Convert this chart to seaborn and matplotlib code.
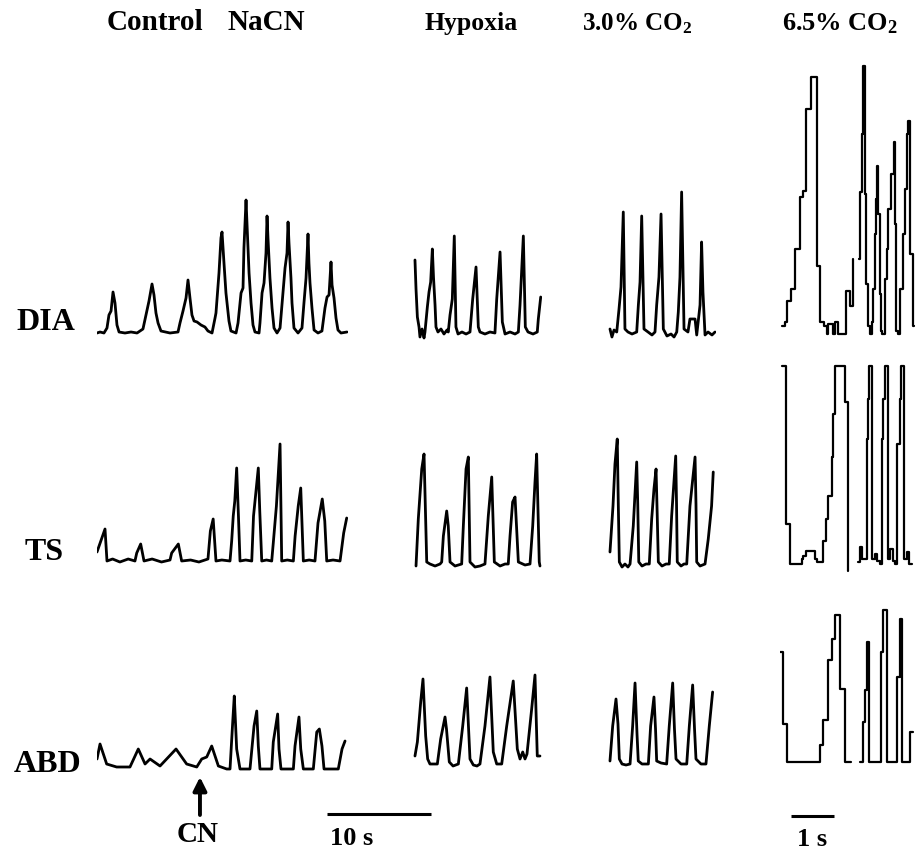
import numpy as np
import matplotlib
matplotlib.use("Agg")
import matplotlib.pyplot as plt
import seaborn as sns

sns.set_theme(style="white")
plt.rcParams["font.family"] = ["Liberation Serif", "DejaVu Serif"]
plt.rcParams["mathtext.fontset"] = "custom"
plt.rcParams["mathtext.rm"] = "Liberation Serif:bold"
plt.rcParams["mathtext.it"] = "Liberation Serif:bold"
plt.rcParams["mathtext.bf"] = "Liberation Serif:bold"

# ---------------------------------------------------------------
# Recording conditions and muscles
# ---------------------------------------------------------------
conditions = ["Control", "NaCN", "Hypoxia", "3.0% CO$_2$", "6.5% CO$_2$"]
muscles = ["DIA", "TS", "ABD"]
scale_bars_s = [10, 1]
cn_injection_s = 9.9

# ---------------------------------------------------------------
# Integrated EMG traces: time (s) and amplitude (a.u.)
# ---------------------------------------------------------------
# Control -> NaCN
nacn_dia_t = [0.00, 0.29, 0.67, 0.96, 1.15, 1.35, 1.54, 1.73, 1.92, 2.12,
              2.69, 3.27, 3.85, 4.42, 4.71, 5.00, 5.29, 5.48, 5.67, 5.87,
              6.15, 7.02, 7.79, 7.98, 8.27, 8.56, 8.75, 8.94, 9.13, 9.33,
              9.62, 10.00, 10.38, 10.67, 11.06, 11.35, 11.44, 11.73, 11.92, 12.02,
              12.21, 12.40, 12.69, 12.88, 13.37, 13.56, 13.85, 14.04, 14.13, 14.33,
              14.42, 14.62, 14.81, 15.00, 15.19, 15.58, 15.67, 15.87, 16.06, 16.25,
              16.35, 16.44, 16.63, 16.83, 17.02, 17.31, 17.60, 17.88, 18.08, 18.27,
              18.37, 18.46, 18.65, 18.75, 18.94, 19.33, 19.71, 19.90, 20.10, 20.29,
              20.38, 20.48, 20.67, 20.87, 21.25, 21.63, 21.92, 22.12, 22.31, 22.50,
              22.60, 22.79, 22.98, 23.17, 23.46, 24.04]
nacn_dia = [0, 1, 0, 5, 18, 22, 41, 30, 8, 1,
            0, 1, 0, 4, 18, 32, 49, 38, 20, 10,
            2, 0, 1, 10, 22, 35, 53, 35, 18, 12,
            11, 8, 6, 2, 0, 15, 20, 60, 95, 101,
            70, 40, 12, 2, 0, 10, 40, 45, 85, 133,
            110, 60, 30, 8, 1, 0, 10, 40, 50, 80,
            117, 95, 55, 25, 5, 0, 5, 40, 65, 80,
            111, 90, 55, 30, 5, 0, 5, 30, 55, 99,
            70, 50, 25, 3, 0, 2, 25, 36, 38, 71,
            48, 35, 15, 3, 0, 1]

nacn_ts_t = [0.00, 0.77, 0.96, 1.5, 2.2, 3.0, 3.65, 3.82, 4.20, 4.52,
             5.3, 6.2, 7.02, 7.18, 7.82, 8.14, 9.0, 9.8, 10.67, 10.9,
             11.17, 11.44, 12.0, 12.79, 12.95, 13.1, 13.25, 13.43, 13.6, 13.75,
             14.3, 14.88, 15.05, 15.51, 15.65, 15.84, 16.3, 16.80, 16.95, 17.25,
             17.6, 17.76, 18.3, 18.88, 19.05, 19.35, 19.59, 19.84, 20.4, 20.96,
             21.25, 21.66, 21.9, 22.09, 22.7, 23.37, 23.72, 24.01]
nacn_ts = [9, 32, 0, 2, -1, 2, 0, 8, 17, 0,
           2, -1, 1, 8, 17, 0, 1, -1, 2, 30,
           42, 0, 1, 0, 20, 45, 60, 93, 45, 0,
           1, 0, 45, 93, 50, 0, 1, 0, 18, 55,
           117, 0, 1, 0, 25, 55, 73, 0, 1, 0,
           38, 62, 40, 0, 1, 0, 28, 43]

nacn_abd_t = [0.00, 0.29, 0.93, 1.89, 3.17, 3.97, 4.62, 5.10, 6.06, 7.60,
              8.62, 9.59, 10.07, 10.55, 11.03, 11.67, 12.47, 12.79, 13.05, 13.20,
              13.43, 13.75, 14.71, 15.10, 15.36, 15.51, 15.67, 16.80, 16.95, 17.37,
              17.50, 17.69, 18.88, 19.04, 19.42, 19.59, 19.84, 20.80, 21.13, 21.38,
              21.63, 21.83, 23.20, 23.56, 23.85]
nacn_abd = [10, 25, 5, 2, 2, 20, 5, 10, 3, 20,
            5, 2, 10, 12, 23, 3, 0, 0, 47, 73,
            20, 0, 0, 43, 58, 23, 0, 0, 27, 55,
            20, 0, 0, 23, 52, 20, 0, 0, 37, 40,
            23, 0, 0, 20, 28]

# Hypoxia
hyp_dia_t = [0.19, 0.29, 0.42, 0.58, 0.67, 0.87, 1.06, 1.15, 1.38, 1.54,
             1.70, 1.86, 1.97, 2.12, 2.21, 2.40, 2.69, 2.98, 3.27, 3.39,
             3.56, 3.78, 3.97, 4.13, 4.33, 4.71, 5.10, 5.48, 5.74, 6.06,
             6.28, 6.44, 6.92, 7.40, 7.88, 8.05, 8.37, 8.59, 8.85, 9.33,
             9.81, 10.13, 10.29, 10.61, 10.80, 11.06, 11.54, 11.95, 12.05, 12.28]
hyp_dia = [72, 43, 15, 5, -5, 3, -6, 0, 25, 40,
           50, 83, 55, 27, 5, 0, 3, -2, 2, 0,
           17, 33, 96, 5, -2, 0, -2, 0, 33, 65,
           5, 0, -2, 0, -1, 33, 80, 10, -2, 0,
           -2, 0, 27, 96, 5, 0, -2, 0, 13, 35]

hyp_ts_t = [0.29, 0.51, 0.84, 1.06, 1.18, 1.32, 1.63, 2.12, 2.60, 2.76,
            2.92, 3.24, 3.39, 3.56, 4.04, 4.68, 4.84, 5.10, 5.32, 5.48,
            5.96, 6.44, 6.92, 7.24, 7.57, 7.82, 8.37, 8.85, 9.16, 9.33,
            9.58, 9.81, 10.13, 10.77, 11.25, 11.51, 11.73, 11.89, 12.14, 12.21]
hyp_ts = [-2, 45, 95, 110, 60, 2, 0, -2, 0, 2,
          28, 53, 38, 2, -2, 0, 38, 95, 107, 2,
          -3, -2, 0, 48, 87, 2, -2, 0, 0, 28,
          62, 67, 2, -1, 0, 38, 82, 110, 2, -2]

hyp_abd_t = [0.19, 0.42, 0.74, 0.96, 1.22, 1.41, 1.63, 2.02, 2.34, 2.66,
             3.08, 3.22, 3.49, 3.85, 4.36, 4.78, 5.16, 5.48, 5.80, 6.15,
             6.44, 6.92, 7.40, 7.72, 8.05, 8.53, 9.01, 9.64, 10.03, 10.29,
             10.55, 10.77, 10.96, 11.41, 11.73, 11.95, 12.21]
hyp_abd = [8, 22, 62, 85, 28, 5, 0, 0, 0, 25,
           47, 35, 2, -2, 0, 38, 76, 5, -1, -2,
           0, 38, 87, 12, 0, 0, 38, 83, 15, 5,
           12, 5, 10, 55, 89, 8, 8]

# 3.0% CO2
co2a_dia_t = [0.19, 0.38, 0.58, 0.84, 1.06, 1.25, 1.47, 1.63, 1.92, 2.31,
              2.76, 2.92, 3.08, 3.24, 3.46, 3.85, 4.23, 4.52, 4.68, 4.90,
              5.10, 5.32, 5.67, 6.06, 6.35, 6.61, 6.76, 6.92, 7.08, 7.31,
              7.69, 7.88, 8.37, 8.53, 8.85, 9.00, 9.13, 9.33, 9.62, 10.00,
              10.29]
co2a_dia = [3, -5, 2, 0, 23, 45, 120, 3, 0, -2,
            0, 27, 50, 116, 3, 0, -3, 0, 27, 55,
            118, 3, -4, -2, -5, 0, 20, 55, 140, 3,
            0, 13, 13, -3, 27, 90, 40, -3, 0, -3,
            0]

co2a_ts_t = [0.19, 0.48, 0.67, 0.89, 0.99, 1.09, 1.35, 1.63, 1.92, 2.12,
             2.43, 2.76, 2.86, 2.96, 3.27, 3.65, 3.97, 4.20, 4.42, 4.62,
             4.73, 4.84, 5.19, 5.58, 5.89, 6.12, 6.51, 6.59, 6.66, 7.02,
             7.31, 7.57, 7.88, 8.37, 8.46, 8.53, 8.85, 9.33, 9.64, 9.96,
             10.12]
co2a_ts = [12, 58, 100, 125, 60, 2, -3, 0, -3, 0,
           38, 102, 60, 2, -2, 0, 0, 45, 75, 95,
           50, 2, -2, 0, 0, 48, 108, 60, 2, -2,
           0, 0, 58, 107, 60, 2, -2, 0, 25, 58,
           92]

co2a_abd_t = [0.19, 0.45, 0.77, 0.96, 1.09, 1.35, 1.73, 2.12, 2.37, 2.60,
              2.79, 2.91, 3.27, 3.88, 4.10, 4.42, 4.57, 4.68, 5.10, 5.64,
              5.89, 6.22, 6.39, 6.54, 7.02, 7.57, 7.82, 8.14, 8.32, 8.46,
              8.94, 9.42, 9.74, 10.06]
co2a_abd = [3, 38, 65, 40, 5, 0, -1, 0, 38, 81,
            30, 3, 0, 0, 38, 67, 35, 3, 1, 0,
            38, 81, 35, 5, 0, 0, 38, 79, 35, 5,
            0, 0, 38, 72]

# 6.5% CO2 (expanded time base, sampled display; NaN = pen lift)
co2b_dia_t = [0.04, 0.12, 0.16, 0.25, 0.35, 0.47, 0.54, 0.60, 0.71, 0.85,
              0.93, 1.02, 1.10, 1.12, 1.24, 1.28, 1.36, 1.43, 1.53, 1.63,
              1.69, 1.72, 1.84, 1.87, 1.90, 1.94, 1.97, 2.00, 2.05, 2.09,
              2.14, 2.17, 2.21, 2.23, 2.26, 2.29, 2.32, 2.34, 2.38, 2.44,
              2.48, 2.52, 2.58, 2.64, 2.67, 2.70, 2.75, 2.79, 2.85, 2.91,
              2.95, 2.98, 3.02, 3.09, 3.12]
co2b_dia = [8, 12, 33, 45, 85, 137, 143, 225, 257, 68,
            12, 8, 0, 10, 0, 12, 0, 0, 43, 28,
            75, np.nan, 75, 142, 200, 268, 140, 50, 8, 0,
            12, 45, 100, 135, 168, 120, 40, 3, 0, 55,
            85, 125, 160, 192, 110, 3, 0, 45, 100, 145,
            200, 213, 80, 8, 8]

co2b_ts_t = [0.04, 0.14, 0.23, 0.50, 0.54, 0.60, 0.81, 0.85, 0.93, 1.01,
             1.07, 1.12, 1.20, 1.24, 1.28, 1.51, 1.59, 1.63, 1.82, 1.86,
             1.90, 1.98, 2.02, 2.05, 2.08, 2.13, 2.21, 2.25, 2.33, 2.37,
             2.40, 2.44, 2.50, 2.56, 2.62, 2.67, 2.72, 2.78, 2.82, 2.88,
             2.95, 3.00, 3.08]
co2b_ts = [198, 40, 0, 5, 8, 13, 5, 2, 2, 23,
           45, 68, 107, 150, 198, 162, -7, np.nan, 2, 17,
           5, 5, 125, 165, 198, 5, 10, 3, 0, 125,
           165, 198, 5, 15, 3, 0, 120, 165, 198, 5,
           12, 0, 0]

co2b_abd_t = [0.00, 0.08, 0.16, 0.93, 0.99, 1.12, 1.20, 1.28, 1.40, 1.51,
              1.64, 1.66, 1.86, 1.92, 1.98, 2.03, 2.08, 2.33, 2.36, 2.40,
              2.48, 2.67, 2.71, 2.78, 2.83, 3.02, 3.09]
co2b_abd = [110, 38, 0, 17, 42, 102, 123, 147, 73, 0,
            0, np.nan, 0, 40, 72, 120, 0, 0, 110, 152,
            0, 0, 85, 143, 0, 30, 30]

traces = [
    [(nacn_dia_t, nacn_dia), (nacn_ts_t, nacn_ts), (nacn_abd_t, nacn_abd)],
    [(hyp_dia_t, hyp_dia), (hyp_ts_t, hyp_ts), (hyp_abd_t, hyp_abd)],
    [(co2a_dia_t, co2a_dia), (co2a_ts_t, co2a_ts), (co2a_abd_t, co2a_abd)],
    [(co2b_dia_t, co2b_dia), (co2b_ts_t, co2b_ts), (co2b_abd_t, co2b_abd)],
]

# ---------------------------------------------------------------
# Page layout (pixels on a 919 x 853 canvas)
# ---------------------------------------------------------------
W, H = 919, 853
col_left = [97, 413, 608, 780]
col_width = [251, 129, 108, 136]
px_per_s = [10.4, 10.4, 10.4, 43.0]
row_base = [[334, 333, 333, 335],
            [562, 565, 565, 565],
            [770, 765, 765, 763]]
amp_lo, amp_hi = -15, 275   # 1 amplitude unit = 1 px

fig = plt.figure(figsize=(W / 100, H / 100), dpi=100)
fig.patch.set_facecolor("white")


def segments(t, a):
    t = np.asarray(t, float)
    a = np.asarray(a, float)
    cuts = list(np.where(np.isnan(a))[0]) + [len(a)]
    start = 0
    for c in cuts:
        if c - start > 1:
            yield t[start:c], a[start:c]
        start = c + 1


axes = {}
for ci in range(4):
    for ri in range(3):
        base = row_base[ri][ci]
        rect = [col_left[ci] / W, 1 - (base - amp_lo) / H,
                col_width[ci] / W, (amp_hi - amp_lo) / H]
        ax = fig.add_axes(rect)
        ax.set_xlim(0, col_width[ci] / px_per_s[ci])
        ax.set_ylim(amp_lo, amp_hi)
        ax.patch.set_alpha(0)
        ax.axis("off")
        t, a = traces[ci][ri]
        step = ci == 3
        for ts, as_ in segments(t, a):
            sns.lineplot(x=ts, y=as_, ax=ax, color="black",
                         linewidth=1.6 if step else 2.0,
                         estimator=None, sort=False, legend=False,
                         drawstyle="steps-post" if step else "default")
        axes[(ri, ci)] = ax

bold = dict(fontweight="bold", color="black")

# condition titles
title_spec = [(107, "left", 21), (305, "right", 21),
              (471, "center", 18.5), (637, "center", 18), (840, "center", 19)]
for (x, ha, fs), label in zip(title_spec, conditions):
    fig.text(x / W, 1 - 30 / H, label, ha=ha, va="baseline",
             fontsize=fs, **bold)

# muscle labels
label_pos = [(16, 330), (25, 560), (14, 772)]
for (x, y), name in zip(label_pos, muscles):
    fig.text(x / W, 1 - y / H, name, ha="left", va="baseline",
             fontsize=23, **bold)

# time scale bars
ax_c = axes[(2, 0)]
t0 = (327 - col_left[0]) / px_per_s[0]
ax_c.plot([t0, t0 + scale_bars_s[0]], [-45, -45], color="black", lw=2.2,
          clip_on=False, solid_capstyle="butt")
ax_e = axes[(2, 3)]
t1 = (791 - col_left[3]) / px_per_s[3]
ax_e.plot([t1, t1 + scale_bars_s[1]], [-54, -54], color="black", lw=2.2,
          clip_on=False, solid_capstyle="butt")
fig.text(330 / W, 1 - 845 / H, f"{scale_bars_s[0]} s", ha="left",
         va="baseline", fontsize=19, **bold)
fig.text(812 / W, 1 - 846 / H, f"{scale_bars_s[1]} s", ha="center",
         va="baseline", fontsize=19, **bold)

# NaCN injection marker
ax_c.annotate("", xy=(cn_injection_s, -8), xytext=(cn_injection_s, -46),
              arrowprops=dict(arrowstyle="-|>", color="black", lw=2.8,
                              mutation_scale=20, shrinkA=0, shrinkB=0),
              annotation_clip=False)
fig.text(198 / W, 1 - 842 / H, "CN", ha="center", va="baseline",
         fontsize=21, **bold)

fig.savefig("out.png", dpi=100, facecolor="white")
